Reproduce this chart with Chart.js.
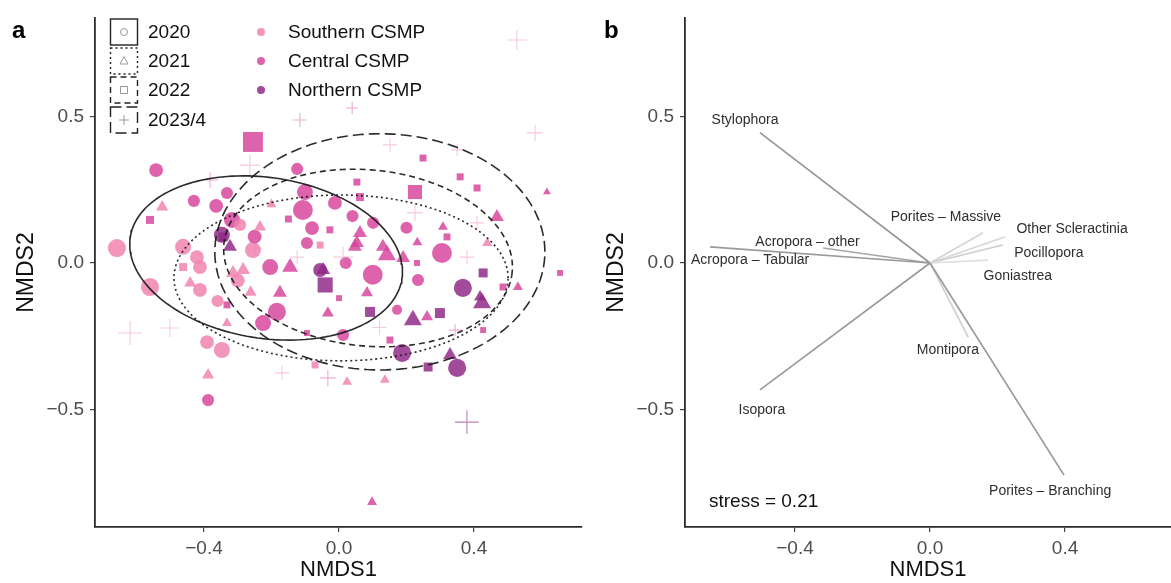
<!DOCTYPE html>
<html>
<head>
<meta charset="utf-8">
<title>NMDS</title>
<script src="https://cdn.jsdelivr.net/npm/chart.js@4.4.1/dist/chart.umd.min.js"></script>
<style>
  html, body { margin: 0; padding: 0; background: #fff; overflow: hidden; }
  #wrap { position: relative; width: 1171px; height: 583px; }
  canvas { position: absolute; top: 0; }
</style>
</head>
<body>
<div id="wrap">
  <canvas id="panelA" width="590" height="583" style="left:0px"></canvas>
  <canvas id="panelB" width="581" height="583" style="left:590px"></canvas>
</div>
<script>
// ---- data ----
const years = ['2020', '2021', '2022', '2023/4'];
const regions = ['Southern CSMP', 'Central CSMP', 'Northern CSMP'];

// site scores : [NMDS1, NMDS2, region index, coral cover %]
const sites2020 = [
  [-0.542, 0.317, 1, 33], [-0.124, 0.321, 1, 27], [-0.332, 0.239, 1, 27], [-0.430, 0.212, 1, 27],
  [-0.364, 0.195, 1, 33], [-0.317, 0.147, 1, 40], [-0.347, 0.096, 2, 40], [-0.101, 0.242, 1, 40],
  [-0.107, 0.181, 1, 53], [-0.012, 0.205, 1, 33], [-0.080, 0.119, 1, 33], [-0.095, 0.068, 1, 27],
  [0.101, 0.137, 1, 27], [-0.658, 0.051, 0, 47], [-0.462, 0.055, 0, 40], [-0.421, 0.020, 0, 33],
  [-0.255, 0.044, 0, 40], [-0.293, 0.130, 0, 27], [-0.412, -0.014, 0, 33], [-0.204, -0.014, 1, 40],
  [0.100, -0.040, 1, 53], [-0.560, -0.082, 0, 47], [-0.412, -0.092, 0, 33], [0.305, 0.034, 1, 53],
  [0.234, -0.058, 1, 27], [0.367, -0.085, 2, 47], [-0.056, -0.024, 2, 33], [0.172, -0.160, 1, 20],
  [0.012, -0.246, 1, 27], [0.187, -0.307, 2, 47], [0.350, -0.358, 2, 47], [-0.391, -0.270, 0, 33],
  [-0.347, -0.297, 0, 40], [-0.388, -0.468, 1, 27], [-0.225, -0.205, 1, 40], [-0.184, -0.167, 1, 47],
  [-0.300, -0.060, 0, 33], [-0.360, -0.130, 0, 27], [0.020, 0.000, 1, 27], [0.200, 0.120, 1, 27],
  [-0.250, 0.090, 1, 33], [0.040, 0.160, 1, 27]
];
const sites2021 = [
  [-0.524, 0.191, 0, 27], [-0.323, 0.055, 2, 33], [-0.234, 0.123, 0, 27], [-0.314, -0.034, 0, 33],
  [-0.284, -0.024, 0, 33], [-0.145, -0.014, 1, 40], [-0.047, -0.024, 2, 33], [0.053, 0.068, 1, 33],
  [0.130, 0.055, 1, 33], [-0.441, -0.068, 0, 27], [-0.175, -0.102, 1, 33], [0.083, -0.102, 1, 27],
  [0.616, 0.242, 1, 13], [0.468, 0.157, 1, 33], [0.308, 0.123, 1, 20], [0.062, 0.102, 1, 33],
  [0.047, 0.055, 1, 33], [0.142, 0.027, 1, 47], [0.190, 0.017, 1, 33], [0.439, 0.068, 0, 20],
  [0.530, -0.082, 1, 20], [0.418, -0.116, 2, 27], [-0.033, -0.171, 1, 27], [0.219, -0.195, 2, 47],
  [0.261, -0.184, 1, 27], [0.424, -0.137, 2, 47], [0.329, -0.314, 2, 33], [0.024, -0.406, 0, 20],
  [0.136, -0.399, 0, 20], [0.098, -0.816, 1, 20], [-0.388, -0.382, 0, 27], [-0.332, -0.205, 0, 20],
  [-0.262, -0.100, 0, 27], [0.232, 0.070, 1, 20], [-0.200, 0.200, 0, 20]
];
const sites2022 = [
  [-0.255, 0.413, 1, 65], [-0.560, 0.147, 1, 18], [-0.344, 0.089, 2, 22], [0.053, 0.276, 1, 14],
  [0.062, 0.225, 1, 18], [-0.027, 0.113, 1, 14], [-0.056, 0.061, 0, 14], [-0.462, -0.014, 0, 18],
  [-0.041, -0.075, 2, 46], [0.249, 0.358, 1, 14], [0.225, 0.242, 1, 42], [0.359, 0.294, 1, 14],
  [0.409, 0.256, 1, 14], [0.320, 0.089, 1, 14], [0.655, -0.034, 1, 10], [0.427, -0.034, 2, 22],
  [0.231, 0.000, 1, 10], [0.486, -0.082, 1, 14], [0.092, -0.167, 2, 26], [0.299, -0.171, 2, 26],
  [-0.095, -0.239, 1, 10], [0.151, -0.263, 1, 14], [0.264, -0.355, 2, 22], [0.427, -0.229, 1, 10],
  [-0.071, -0.348, 0, 14], [-0.332, -0.143, 1, 14], [-0.150, 0.150, 1, 14], [0.000, -0.120, 1, 10]
];
const sites2023 = [
  [0.527, 0.761, 0, 38], [0.581, 0.444, 0, 28], [0.039, 0.529, 1, 17], [-0.264, 0.334, 0, 38],
  [-0.382, 0.283, 1, 28], [0.012, 0.020, 0, 38], [-0.124, 0.020, 0, 23], [0.225, 0.171, 0, 28],
  [0.409, 0.137, 0, 23], [0.379, 0.020, 0, 23], [-0.619, -0.239, 0, 48], [-0.501, -0.222, 0, 33],
  [-0.169, -0.375, 0, 23], [-0.033, -0.392, 1, 28], [0.344, -0.229, 1, 17], [0.379, -0.543, 2, 48],
  [0.151, 0.403, 0, 23], [-0.116, 0.488, 1, 23], [0.350, 0.386, 0, 17], [-0.250, 0.050, 0, 23],
  [0.120, -0.220, 0, 23]
];

// 95% ellipses per year : centre, semi axes, tilt (degrees)
const ellipseCentre = [[-0.216, 0.017], [0.006, -0.051], [0.086, 0.017], [0.121, 0.038]];
const ellipseAxes = [[0.409, 0.273], [0.495, 0.283], [0.430, 0.300], [0.489, 0.403]];
const ellipseTilt = [-12, 0, -8, 0];

// species vectors (envfit) and where their names sit
const species = ['Stylophora', 'Acropora \u2013 other', 'Acropora \u2013 Tabular', 'Porites \u2013 Massive',
  'Other Scleractinia', 'Pocillopora', 'Goniastrea', 'Montipora', 'Isopora', 'Porites \u2013 Branching'];
const vecX = [-0.504, -0.317, -0.652, 0.157, 0.222, 0.216, 0.172, 0.113, -0.504, 0.397];
const vecY = [0.445, 0.051, 0.055, 0.103, 0.089, 0.062, 0.010, -0.253, -0.433, -0.724];
const labelX = [-0.548, -0.363, -0.533, 0.047, 0.421, 0.352, 0.260, 0.053, -0.498, 0.356];
const labelY = [0.486, 0.072, 0.010, 0.158, 0.116, 0.034, -0.045, -0.298, -0.503, -0.778];
const stress = 0.21;

const xTicks = [-0.4, 0, 0.4];
const yTicks = [-0.5, 0, 0.5];

// ---- styles ----
const FONT = '"Liberation Sans", Arial, Helvetica, sans-serif';
Chart.defaults.font.family = FONT;
const regionRGB = ['240,132,176', '214,72,158', '144,44,136'];
const yearDash = [[], [2, 3], [6, 4], [11, 5]];
const shapeOf = ['circle', 'triangle', 'rect', 'cross'];
const vecGrey = ['#979797', '#a6a6a6', '#9a9a9a', '#d4d4d4', '#d9d9d9', '#d0d0d0', '#dedede', '#cfcfcf', '#9a9a9a', '#9a9a9a'];

function baseRadius(cover) {
  return 2 + 0.15 * cover;
}
// shapes differ a little in how big they read at the same size
const shapeScale = [1, 1.15, 1.2, 1.3];

function fmtTick(v) {
  if (Math.abs(v) < 1e-9) return '0.0';
  return (v < 0 ? '\u2212' : '') + Math.abs(v).toFixed(1);
}

function ellipsePoints(c, r, tilt) {
  const t = tilt * Math.PI / 180;
  const pts = [];
  for (let i = 0; i <= 160; i++) {
    const a = i / 160 * 2 * Math.PI;
    const ex = r[0] * Math.cos(a), ey = r[1] * Math.sin(a);
    pts.push({ x: c[0] + ex * Math.cos(t) - ey * Math.sin(t), y: c[1] + ex * Math.sin(t) + ey * Math.cos(t) });
  }
  return pts;
}

function axes(xMin, xMax, yWidth) {
  const tickFont = { size: 19 };
  return {
    x: {
      type: 'linear', min: xMin, max: xMax,
      afterBuildTicks: s => { s.ticks = xTicks.map(v => ({ value: v })); },
      afterFit: s => { s.height = 56; },
      grid: { drawOnChartArea: false, drawTicks: true, tickLength: 5, color: '#444', lineWidth: 1.2 },
      border: { display: true, color: '#2b2b2b', width: 1.8 },
      ticks: { color: '#4d4d4d', font: tickFont, padding: 5, callback: fmtTick, maxRotation: 0 },
      title: { display: true, text: 'NMDS1', color: '#111', font: { size: 22 }, padding: { top: 0, bottom: 0 } }
    },
    y: {
      type: 'linear', min: -0.901, max: 0.836,
      afterBuildTicks: s => { s.ticks = yTicks.map(v => ({ value: v })); },
      afterFit: s => { s.width = yWidth; },
      grid: { drawOnChartArea: false, drawTicks: true, tickLength: 5, color: '#444', lineWidth: 1.2 },
      border: { display: true, color: '#2b2b2b', width: 1.8 },
      ticks: { color: '#4d4d4d', font: tickFont, padding: 6, callback: fmtTick },
      title: { display: true, text: 'NMDS2', color: '#111', font: { size: 23 }, padding: { top: 13, bottom: 0 } }
    }
  };
}

// ---- panel a : site scores with year ellipses ----
const siteSets = [sites2020, sites2021, sites2022, sites2023];

const ellipseDatasets = years.map((yr, i) => ({
  label: 'ellipse ' + yr,
  data: ellipsePoints(ellipseCentre[i], ellipseAxes[i], ellipseTilt[i]),
  showLine: true, fill: false, tension: 0,
  pointRadius: 0,
  borderColor: 'rgba(25,25,25,0.92)',
  borderWidth: 1.6,
  borderDash: yearDash[i]
}));

const siteDatasets = years.map((yr, i) => ({
  label: yr,
  data: siteSets[i].map(p => ({ x: p[0], y: p[1], reg: p[2], cover: p[3] })),
  showLine: false,
  pointStyle: shapeOf[i],
  pointRadius: ctx => baseRadius(ctx.raw.cover) * shapeScale[i],
  backgroundColor: ctx => i === 3 ? 'rgba(0,0,0,0)' : 'rgba(' + regionRGB[ctx.raw.reg] + ',0.85)',
  borderColor: ctx => i === 3 ? 'rgba(' + regionRGB[ctx.raw.reg] + ',' + (ctx.raw.reg === 2 ? 0.6 : 0.45) + ')' : 'rgba(0,0,0,0)',
  borderWidth: i === 3 ? 1.1 : 0
}));

// crosses sit under the filled shapes
siteDatasets.reverse();

const legendPlugin = {
  id: 'legendA',
  afterDraw(chart) {
    const c = chart.ctx;
    c.save();
    c.fillStyle = '#000';
    c.font = 'bold 24px ' + FONT;
    c.textBaseline = 'alphabetic';
    c.fillText('a', 12, 38);

    // year key : ellipse line type + shape
    const rows = [32, 61, 90, 120];
    years.forEach((yr, i) => {
      const cy = rows[i];
      c.strokeStyle = '#222';
      c.lineWidth = 1.4;
      c.setLineDash(yearDash[i]);
      c.strokeRect(110.5, cy - 13, 27, 26);
      c.setLineDash([]);
      c.strokeStyle = '#9a9a9a';
      c.lineWidth = 1;
      const kx = 124, r = 3.5;
      c.beginPath();
      if (i === 0) c.arc(kx, cy, r, 0, 2 * Math.PI);
      if (i === 1) { c.moveTo(kx, cy - r - 1); c.lineTo(kx + r + 0.5, cy + r - 0.5); c.lineTo(kx - r - 0.5, cy + r - 0.5); c.closePath(); }
      if (i === 2) c.rect(kx - r, cy - r, 2 * r, 2 * r);
      if (i === 3) { c.moveTo(kx - 5, cy); c.lineTo(kx + 5, cy); c.moveTo(kx, cy - 5); c.lineTo(kx, cy + 5); }
      c.stroke();
      c.fillStyle = '#111';
      c.font = '19px ' + FONT;
      c.textBaseline = 'middle';
      c.fillText(yr, 148, cy + 1);
    });

    // region key
    regions.forEach((rg, i) => {
      const cy = rows[i];
      c.fillStyle = 'rgba(' + regionRGB[i] + ',0.85)';
      c.beginPath();
      c.arc(261, cy, 4, 0, 2 * Math.PI);
      c.fill();
      c.fillStyle = '#111';
      c.font = '19px ' + FONT;
      c.textBaseline = 'middle';
      c.fillText(rg, 288, cy + 1);
    });
    c.restore();
  }
};

new Chart(document.getElementById('panelA').getContext('2d'), {
  type: 'scatter',
  data: { datasets: ellipseDatasets.concat(siteDatasets) },
  options: {
    responsive: false, animation: false, devicePixelRatio: 1, events: [],
    layout: { autoPadding: false, padding: { left: 0, right: 8, top: 18, bottom: 0 } },
    plugins: { legend: { display: false }, tooltip: { enabled: false } },
    scales: axes(-0.723, 0.720, 95)
  },
  plugins: [legendPlugin]
});

// ---- panel b : species vectors ----
const vectorDatasets = species.map((sp, i) => ({
  label: sp,
  data: [{ x: 0, y: 0 }, { x: vecX[i], y: vecY[i] }],
  showLine: true, fill: false, pointRadius: 0,
  borderColor: vecGrey[i],
  borderWidth: 1.7
}));
// light vectors underneath
vectorDatasets.reverse();

const labelPlugin = {
  id: 'labelsB',
  afterDraw(chart) {
    const c = chart.ctx, sx = chart.scales.x, sy = chart.scales.y;
    c.save();
    c.fillStyle = '#000';
    c.font = 'bold 24px ' + FONT;
    c.textBaseline = 'alphabetic';
    c.fillText('b', 14, 38);

    c.fillStyle = '#2e2e2e';
    c.font = '14px ' + FONT;
    c.textAlign = 'center';
    c.textBaseline = 'middle';
    species.forEach((sp, i) => {
      c.fillText(sp, sx.getPixelForValue(labelX[i]), sy.getPixelForValue(labelY[i]));
    });

    c.fillStyle = '#111';
    c.font = '19px ' + FONT;
    c.textAlign = 'left';
    c.fillText('stress = ' + stress.toFixed(2), sx.getPixelForValue(-0.655), sy.getPixelForValue(-0.816));
    c.restore();
  }
};

new Chart(document.getElementById('panelB').getContext('2d'), {
  type: 'scatter',
  data: { datasets: vectorDatasets },
  options: {
    responsive: false, animation: false, devicePixelRatio: 1, events: [],
    layout: { autoPadding: false, padding: { left: 0, right: 0, top: 18, bottom: 0 } },
    plugins: { legend: { display: false }, tooltip: { enabled: false } },
    scales: axes(-0.726, 0.714, 95)
  },
  plugins: [labelPlugin]
});
</script>
</body>
</html>
